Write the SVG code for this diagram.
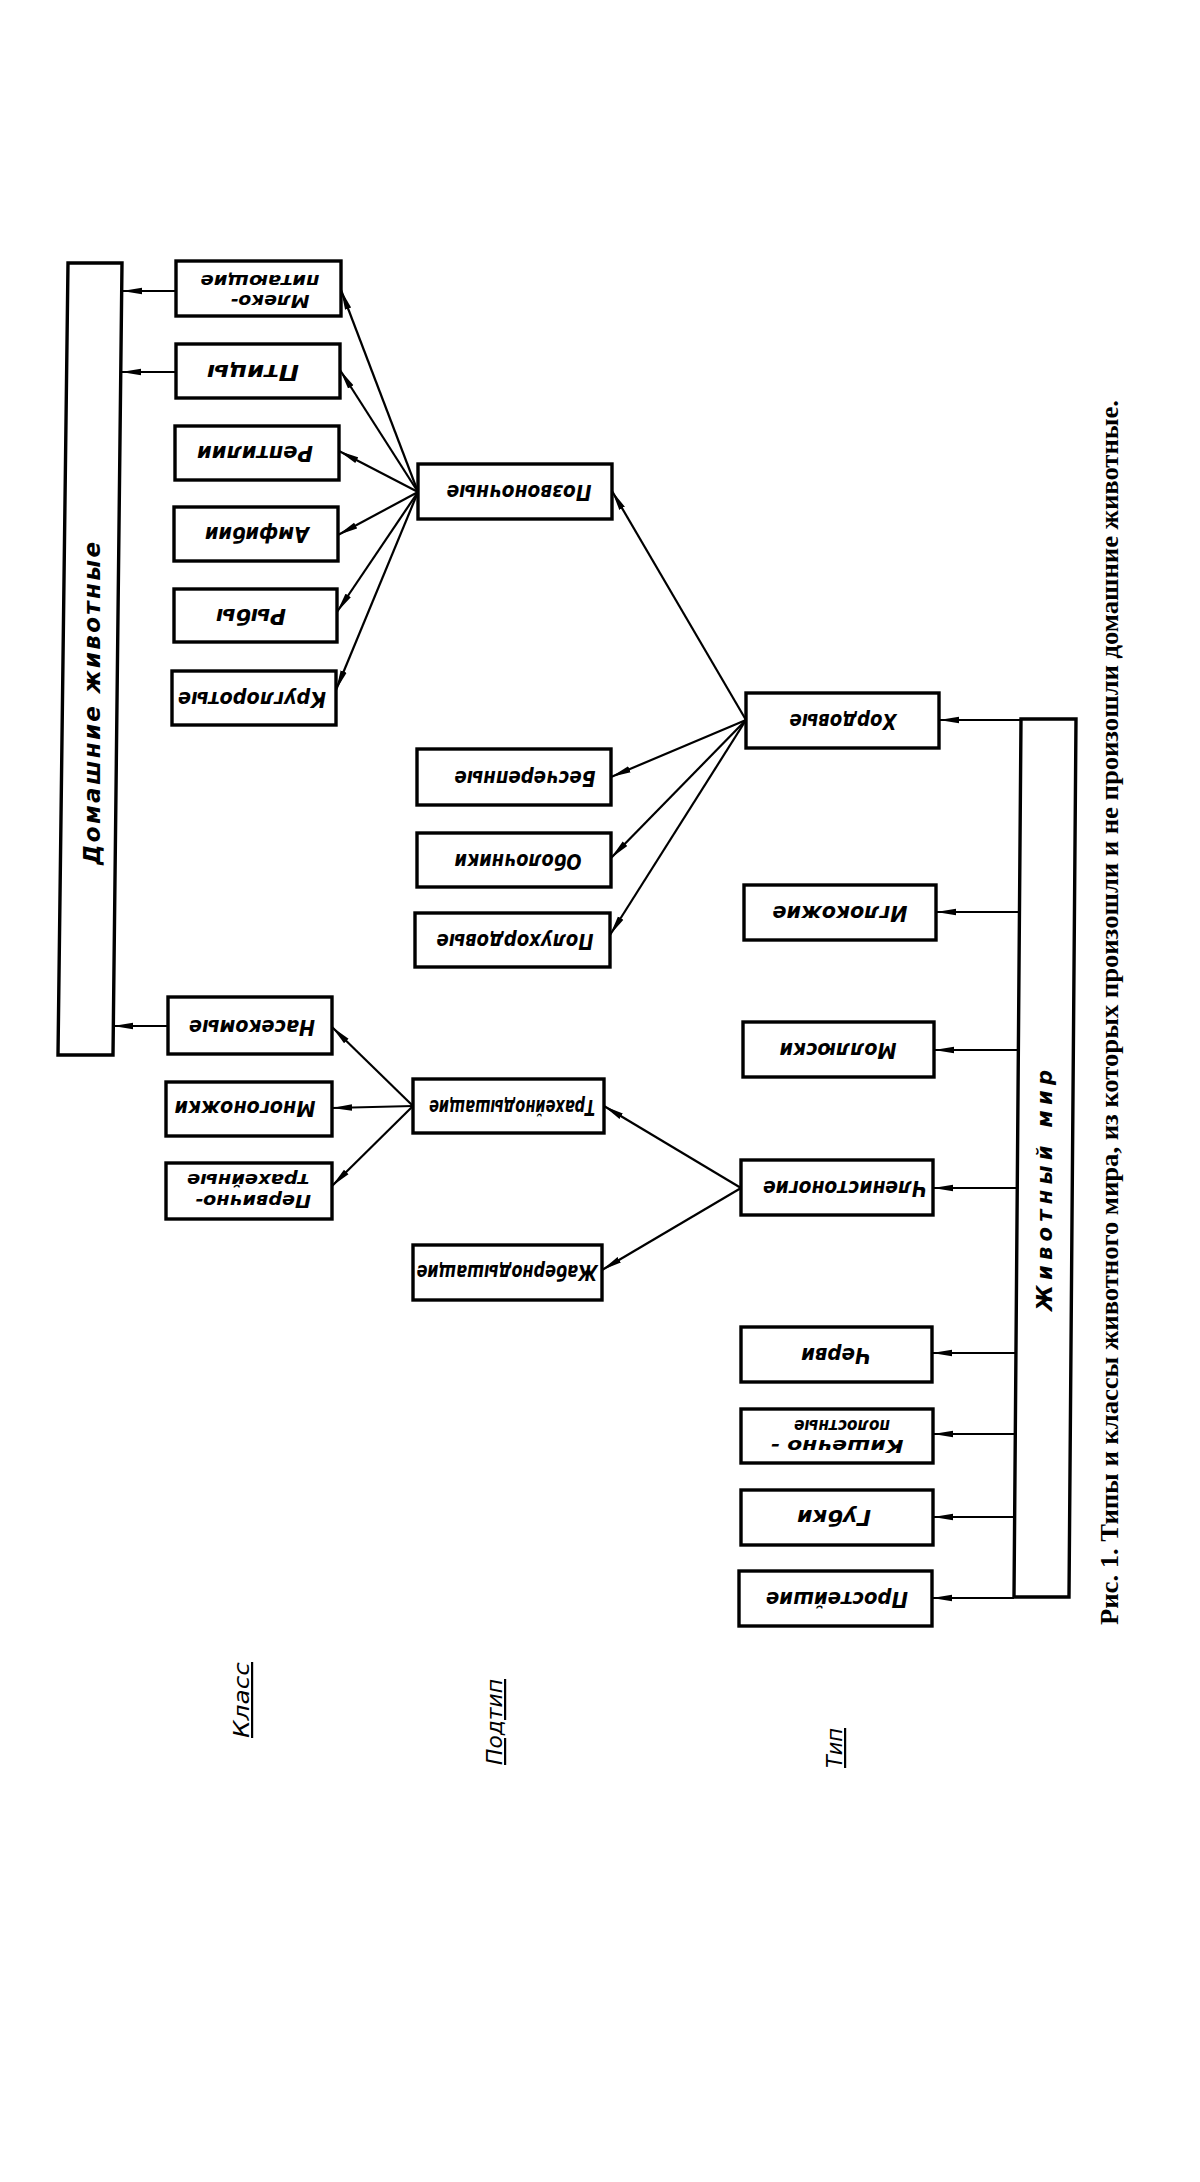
<svg xmlns="http://www.w3.org/2000/svg" width="1200" height="2182" viewBox="0 0 1200 2182">
<style>
.bg{fill:#ffffff}
.box{fill:#ffffff;stroke:#000;stroke-width:3.4}
.conn line{stroke:#000;stroke-width:2.2;marker-end:url(#ah)}
.lbl{font-family:"DejaVu Sans Condensed","DejaVu Sans",sans-serif;font-style:italic;font-weight:bold;font-size:21px;fill:#000;text-anchor:middle;dominant-baseline:central}
.lbl2{font-family:"DejaVu Sans Condensed","DejaVu Sans",sans-serif;font-style:italic;font-weight:bold;font-size:18px;fill:#000;text-anchor:middle;dominant-baseline:central}
.vert{font-family:"DejaVu Sans","Liberation Sans",sans-serif;font-style:italic;font-weight:bold;font-size:23px;fill:#000}
.lev{font-family:"DejaVu Sans Condensed","DejaVu Sans",sans-serif;font-style:italic;font-size:22px;fill:#000;text-decoration:underline}
.cap{font-family:"Liberation Serif",serif;font-weight:bold;font-size:25px;fill:#000}
</style>
<defs>
<marker id="ah" viewBox="0 0 20 8" markerWidth="20" markerHeight="8" refX="20" refY="4" orient="auto" markerUnits="userSpaceOnUse">
<path d="M0,0.8 L20,4 L0,7.2 Z" fill="#000"/>
</marker>
</defs>
<rect class="bg" x="0" y="0" width="1200" height="2182"/>

<g id="connectors" class="conn">
<line x1="176" y1="291" x2="122" y2="291"/>
<line x1="176" y1="372" x2="121" y2="372"/>
<line x1="168" y1="1026" x2="113" y2="1026"/>
<line x1="418" y1="492" x2="341" y2="290"/>
<line x1="418" y1="492" x2="340" y2="370"/>
<line x1="418" y1="492" x2="339" y2="451"/>
<line x1="418" y1="492" x2="338" y2="535"/>
<line x1="418" y1="492" x2="337" y2="612"/>
<line x1="418" y1="492" x2="336" y2="690"/>
<line x1="746" y1="720" x2="612" y2="491"/>
<line x1="746" y1="720" x2="611" y2="777"/>
<line x1="746" y1="720" x2="611" y2="858"/>
<line x1="746" y1="720" x2="610" y2="935"/>
<line x1="741" y1="1188" x2="604" y2="1106"/>
<line x1="741" y1="1188" x2="602" y2="1270"/>
<line x1="413" y1="1106" x2="332" y2="1027"/>
<line x1="413" y1="1106" x2="332" y2="1108"/>
<line x1="413" y1="1106" x2="332" y2="1186"/>
<line x1="1021" y1="720" x2="939" y2="720"/>
<line x1="1019.5" y1="912" x2="936" y2="912"/>
<line x1="1018.4" y1="1050" x2="934" y2="1050"/>
<line x1="1017.3" y1="1188" x2="933" y2="1188"/>
<line x1="1016" y1="1353" x2="932" y2="1353"/>
<line x1="1015.3" y1="1434" x2="933" y2="1434"/>
<line x1="1014.6" y1="1517" x2="933" y2="1517"/>
<line x1="1014" y1="1598" x2="932" y2="1598"/>
</g>

<g id="domashnie">
<polygon class="box" points="68,263 122,263 113,1055 58,1055"/>
<text class="vert" x="100" y="865" transform="rotate(-90 100 865)" textLength="323" lengthAdjust="spacing">Домашние  животные</text>
</g>

<g id="zhivotny-mir">
<polygon class="box" points="1021,719 1076,719 1069,1597 1014,1597"/>
<text class="vert" style="font-size:21px" x="1052" y="1311" transform="rotate(-90 1052 1311)" textLength="241" lengthAdjust="spacing">Животный  мир</text>
</g>

<g id="mlekopitayushchie">
<rect class="box" x="176" y="261" width="165" height="55"/>
<text class="lbl2" x="270" y="301" transform="rotate(180 270 301)" textLength="79" lengthAdjust="spacingAndGlyphs">Млеко-</text>
<text class="lbl2" x="260" y="281" transform="rotate(180 260 281)" textLength="119" lengthAdjust="spacingAndGlyphs">питающие</text>
</g>
<g id="ptitsy">
<rect class="box" x="176" y="344" width="164" height="54"/>
<text class="lbl" x="253" y="372" transform="rotate(180 253 372)" textLength="92" lengthAdjust="spacingAndGlyphs">Птицы</text>
</g>
<g id="reptilii">
<rect class="box" x="175" y="426" width="164" height="54"/>
<text class="lbl" x="255" y="453" transform="rotate(180 255 453)" textLength="116" lengthAdjust="spacingAndGlyphs">Рептилии</text>
</g>
<g id="amfibii">
<rect class="box" x="174" y="507" width="164" height="54"/>
<text class="lbl" x="257" y="534" transform="rotate(180 257 534)" textLength="104" lengthAdjust="spacingAndGlyphs">Амфибии</text>
</g>
<g id="ryby">
<rect class="box" x="174" y="589" width="163" height="53"/>
<text class="lbl" x="251" y="616" transform="rotate(180 251 616)" textLength="70" lengthAdjust="spacingAndGlyphs">Рыбы</text>
</g>
<g id="kruglorotye">
<rect class="box" x="172" y="671" width="164" height="54"/>
<text class="lbl" x="252" y="699" transform="rotate(180 252 699)" textLength="148" lengthAdjust="spacingAndGlyphs">Круглоротые</text>
</g>
<g id="pozvonochnye">
<rect class="box" x="418" y="464" width="194" height="55"/>
<text class="lbl" x="519" y="492" transform="rotate(180 519 492)" textLength="145" lengthAdjust="spacingAndGlyphs">Позвоночные</text>
</g>
<g id="beschrepnye">
<rect class="box" x="417" y="749" width="194" height="56"/>
<text class="lbl" x="525" y="778" transform="rotate(180 525 778)" textLength="141" lengthAdjust="spacingAndGlyphs">Бесчерепные</text>
</g>
<g id="obolochniki">
<rect class="box" x="417" y="833" width="194" height="54"/>
<text class="lbl" x="518" y="861" transform="rotate(180 518 861)" textLength="127" lengthAdjust="spacingAndGlyphs">Оболочники</text>
</g>
<g id="poluhordovye">
<rect class="box" x="415" y="913" width="195" height="54"/>
<text class="lbl" x="515" y="941" transform="rotate(180 515 941)" textLength="157" lengthAdjust="spacingAndGlyphs">Полухордовые</text>
</g>
<g id="nasekomye">
<rect class="box" x="168" y="997" width="164" height="57"/>
<text class="lbl" x="252" y="1027" transform="rotate(180 252 1027)" textLength="126" lengthAdjust="spacingAndGlyphs">Насекомые</text>
</g>
<g id="mnogonozhki">
<rect class="box" x="166" y="1082" width="166" height="54"/>
<text class="lbl" x="245" y="1108" transform="rotate(180 245 1108)" textLength="141" lengthAdjust="spacingAndGlyphs">Многоножки</text>
</g>
<g id="pervichnotraheynye">
<rect class="box" x="166" y="1163" width="166" height="56"/>
<text class="lbl2" x="253" y="1201" transform="rotate(180 253 1201)" textLength="116" lengthAdjust="spacingAndGlyphs">Первично-</text>
<text class="lbl2" x="248" y="1180" transform="rotate(180 248 1180)" textLength="122" lengthAdjust="spacingAndGlyphs">трахейные</text>
</g>
<g id="traheynodyshashchie">
<rect class="box" x="413" y="1079" width="191" height="54"/>
<text class="lbl" x="512" y="1107" transform="rotate(180 512 1107)" textLength="166" lengthAdjust="spacingAndGlyphs">Трахейнодышащие</text>
</g>
<g id="zhabernodyshashchie">
<rect class="box" x="413" y="1245" width="189" height="55"/>
<text class="lbl" x="507" y="1272" transform="rotate(180 507 1272)" textLength="181" lengthAdjust="spacingAndGlyphs">Жабернодышащие</text>
</g>
<g id="hordovye">
<rect class="box" x="746" y="693" width="193" height="55"/>
<text class="lbl" x="843" y="721" transform="rotate(180 843 721)" textLength="107" lengthAdjust="spacingAndGlyphs">Хордовые</text>
</g>
<g id="iglokozhie">
<rect class="box" x="744" y="885" width="192" height="55"/>
<text class="lbl" x="840" y="913" transform="rotate(180 840 913)" textLength="135" lengthAdjust="spacingAndGlyphs">Иглокожие</text>
</g>
<g id="mollyuski">
<rect class="box" x="743" y="1022" width="191" height="55"/>
<text class="lbl" x="838" y="1050" transform="rotate(180 838 1050)" textLength="117" lengthAdjust="spacingAndGlyphs">Моллюски</text>
</g>
<g id="chlenistonogie">
<rect class="box" x="741" y="1160" width="192" height="55"/>
<text class="lbl" x="845" y="1188" transform="rotate(180 845 1188)" textLength="164" lengthAdjust="spacingAndGlyphs">Членистоногие</text>
</g>
<g id="chervi">
<rect class="box" x="741" y="1327" width="191" height="55"/>
<text class="lbl" x="836" y="1355" transform="rotate(180 836 1355)" textLength="70" lengthAdjust="spacingAndGlyphs">Черви</text>
</g>
<g id="kishechnopolostnye">
<rect class="box" x="741" y="1409" width="192" height="54"/>
<text class="lbl2" x="837" y="1446" transform="rotate(180 837 1446)" textLength="133" lengthAdjust="spacingAndGlyphs">Кишечно -</text>
<text class="lbl2" x="842" y="1426" transform="rotate(180 842 1426)" textLength="96" lengthAdjust="spacingAndGlyphs">полостные</text>
</g>
<g id="gubki">
<rect class="box" x="741" y="1490" width="192" height="55"/>
<text class="lbl" x="834" y="1517" transform="rotate(180 834 1517)" textLength="74" lengthAdjust="spacingAndGlyphs">Губки</text>
</g>
<g id="prosteyshie">
<rect class="box" x="739" y="1571" width="193" height="55"/>
<text class="lbl" x="837" y="1599" transform="rotate(180 837 1599)" textLength="142" lengthAdjust="spacingAndGlyphs">Простейшие</text>
</g>

<g id="levels">
<text class="lev" x="249" y="1738" transform="rotate(-90 249 1738)" textLength="76" lengthAdjust="spacingAndGlyphs">Класс</text>
<text class="lev" x="502" y="1765" transform="rotate(-90 502 1765)" textLength="86" lengthAdjust="spacingAndGlyphs">Подтип</text>
<text class="lev" x="842" y="1768" transform="rotate(-90 842 1768)" textLength="40" lengthAdjust="spacingAndGlyphs">Тип</text>
</g>

<g id="caption">
<text class="cap" x="1118" y="1625" transform="rotate(-90 1118 1625)" textLength="1225" lengthAdjust="spacingAndGlyphs">Рис. 1. Типы и классы животного мира, из которых произошли и не произошли домашние животные.</text>
</g>
</svg>
